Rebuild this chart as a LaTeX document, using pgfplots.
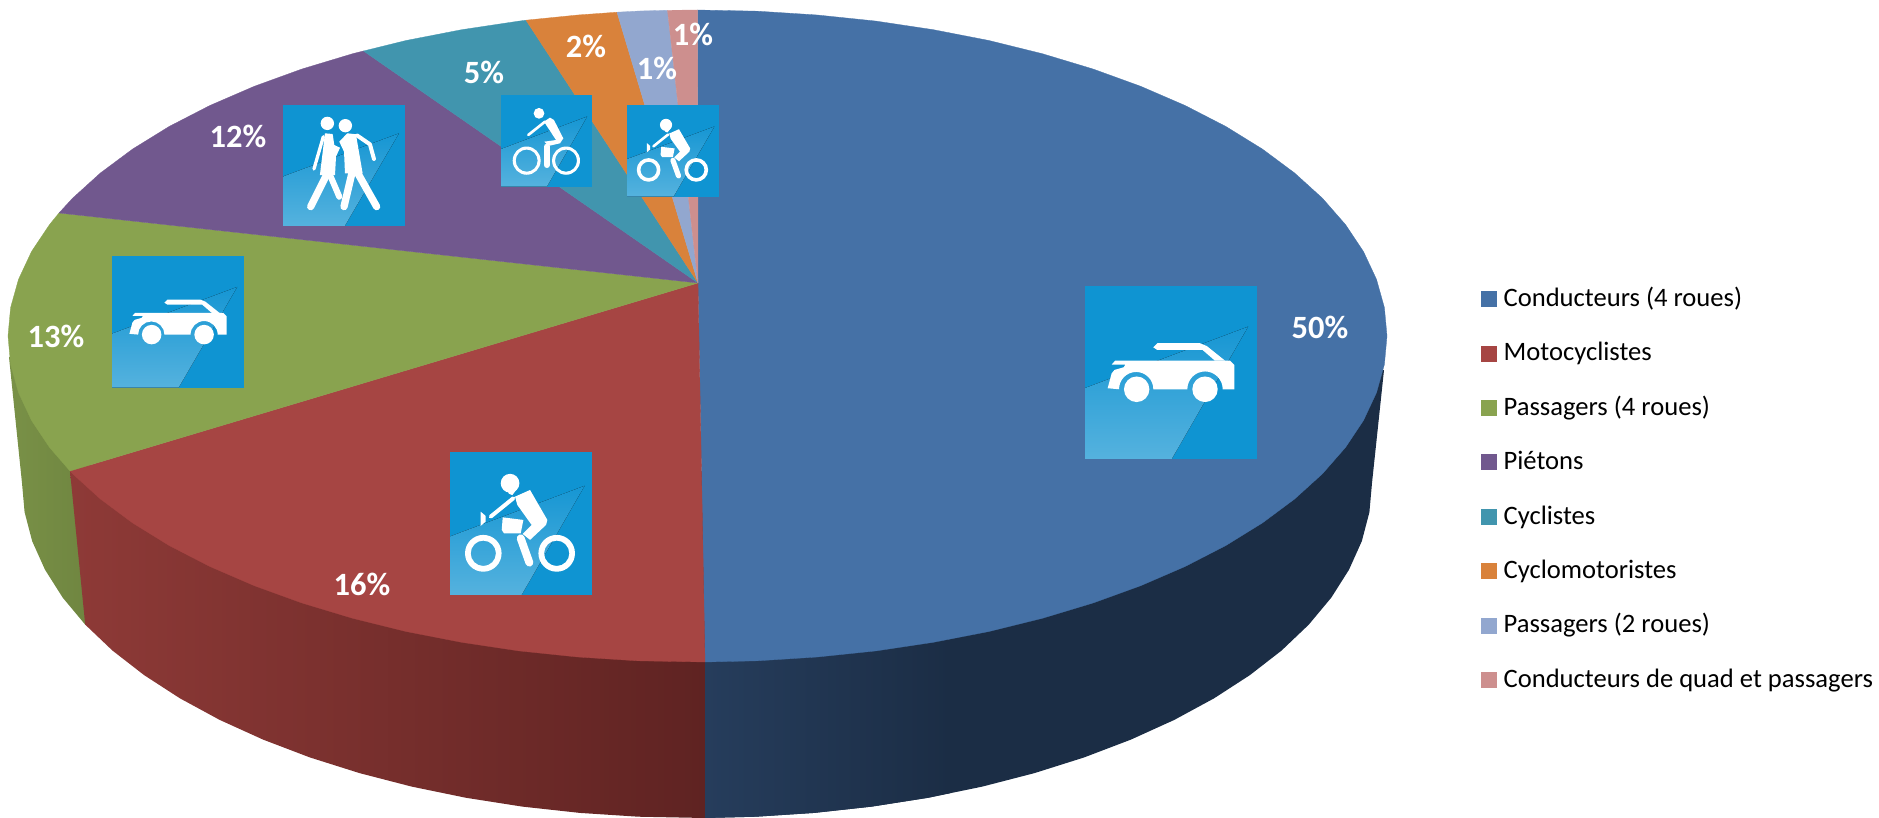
\documentclass[border=0pt]{standalone}
\usepackage{pgfplots}
\pgfplotsset{compat=1.18}
\usepackage{fontspec}
\setmainfont{Carlito}
\definecolor{cBlue}{HTML}{4571A6}
\definecolor{cRed}{HTML}{A64543}
\definecolor{cGreen}{HTML}{89A34F}
\definecolor{cPurple}{HTML}{71588E}
\definecolor{cTeal}{HTML}{4195AE}
\definecolor{cOrange}{HTML}{D9823B}
\definecolor{cLtBlue}{HTML}{92A7CF}
\definecolor{cPink}{HTML}{CD8F8E}
\definecolor{tileA}{HTML}{0F94D2}
\definecolor{tileB}{HTML}{55B2DE}
\definecolor{tileC}{HTML}{1696D3}
\newcommand\tile[5]{%
  \pgfmathsetmacro\ux{#3/1000}\pgfmathsetmacro\uy{#4/1000}%
  \begin{scope}[shift={({#1*1pt},{(818-#2)*1pt})},x=\ux pt,y=-\uy pt]
    \fill[tileA] (0,0) rectangle (1000,1000);
    \fill[top color=tileC,bottom color=tileB] (0,590) -- (950,235) -- (505,1000) -- (0,1000) -- cycle;
    \begin{scope}[white,fill=white,line cap=round,line join=round]
      #5
    \end{scope}
  \end{scope}}
\newcommand\carglyph{%
  \fill (398,355) -- (421,331) -- (670,331) -- (709,347) -- (816,432) -- (757,432) -- (685,370) -- (421,370) -- cycle;
  \fill (175,432) -- (845,432) -- (870,457) -- (870,597) -- (802,597)
    arc[start angle=0,end angle=-180,x radius=103,y radius=103] -- (398,597)
    arc[start angle=0,end angle=-180,x radius=100,y radius=100] -- (132,591) -- (155,505) -- (172,485) -- (225,470) -- (235,455) -- (155,455) -- cycle;
  \fill (301,597) circle[radius=74];
  \fill (699,597) circle[radius=74];}
\newcommand\motoglyph{%
  \fill[even odd rule] (235,708) circle[radius=129] (235,708) circle[radius=89];
  \fill[even odd rule] (753,708) circle[radius=129] (753,708) circle[radius=89];
  \fill (424,217) circle[radius=66];
  \fill (400,250) -- (470,260) -- (440,300) -- (415,290) -- cycle;
  \draw[line width=28*\ux pt] (287,451) -- (447,322);
  \fill (459,311) -- (565,264) -- (687,474) -- (678,509) -- (565,614) -- (513,572) -- (576,509) -- (475,369) -- cycle;
  \draw[line width=56*\ux pt] (499,603) -- (560,773);
  \fill (372,456) -- (518,474) -- (499,568) -- (381,568) -- (365,544) -- cycle;
  \fill (216,416) -- (252,446) -- (252,486) -- (216,516) -- cycle;}
\newcommand\bikeglyph{%
  \fill[even odd rule] (283,716) circle[radius=154] (283,716) circle[radius=121];
  \fill[even odd rule] (717,716) circle[radius=154] (717,716) circle[radius=121];
  \fill (419,200) circle[radius=59];
  \draw[line width=29*\ux pt] (301,436) -- (485,291);
  \fill (474,291) -- (540,247) -- (584,273) -- (687,473) -- (651,527) -- (522,556) -- (478,509) -- (607,491) -- (522,364) -- cycle;
  \draw[line width=66*\ux pt] (504,564) -- (504,764);}
\newcommand\walkglyph{%
  \fill (362,152) circle[radius=55];
  \fill (510,171) circle[radius=55];
  \draw[line width=27*\ux pt] (329,262) -- (252,529);
  \fill (342,234) -- (406,240) -- (419,331) -- (466,353) -- (433,427) -- (425,579) -- (301,579) -- cycle;
  \draw[line width=60*\ux pt] (362,565) -- (225,840);
  \draw[line width=50*\ux pt] (378,565) -- (460,758);
  \draw[tileA,line width=12*\ux pt] (411,242) -- (470,320);
  \fill (526,234) -- (597,242) -- (652,565) -- (507,565) -- (499,386) -- (460,303) -- cycle;
  \draw[line width=33*\ux pt] (608,253) -- (712,325) -- (745,446);
  \draw[line width=60*\ux pt] (570,537) -- (499,840);
  \draw[line width=60*\ux pt] (597,537) -- (767,840);}
\begin{document}
\begin{tikzpicture}
\path[use as bounding box] (0,0) rectangle (1879pt,818pt);
\begin{axis}[
  at={(0,0)},anchor=south west,
  scale only axis,width=1879pt,height=818pt,
  xmin=0,xmax=1879,ymin=0,ymax=818,y dir=reverse,
  hide axis,clip=false,
  legend image code/.code={\path[#1] (0pt,-7.5pt) rectangle (15pt,7.5pt);\path (0pt,0pt) (22.3pt,0pt);},
  legend style={at={(axis cs:1481,286.4)},anchor=north west,draw=none,fill=none,
    font=\fontsize{26.6}{30}\selectfont,inner sep=0pt,outer sep=0pt,
    row sep=29.7pt,
    nodes={inner sep=0pt,text height=20pt,text depth=4.7pt,anchor=west}},
  legend cell align=left,
]
% side faces
\addplot[forget plot,draw=none,left color={rgb,255:red,121;green,145;blue,71},right color={rgb,255:red,111;green,133;blue,64}] coordinates {
(85.2,624.6)(62.7,597.6)(45,569.7)(32.2,541.2)(24.6,512.2)(22,483)(9,357)(90,357)(90,625)(85.2,624.6)};
\addplot[forget plot,draw=none,left color={rgb,255:red,142;green,58;blue,55},right color={rgb,255:red,95;green,35;blue,34}] coordinates {
(705,818)(638.2,816.7)(579.8,812.9)(522.3,806.6)(466.1,797.8)(411.7,786.6)(359.5,773.1)(309.8,757.4)(263.1,739.6)(219.7,719.9)(179.9,698.3)(144.1,675.1)(112.4,650.5)(85.2,624.6)(70,471)(705,471)(705,818)};
\addplot[forget plot,draw=none,fill={rgb,255:red,27;green,45;blue,69}] coordinates {
(705,818)(755.8,816.7)(814.2,812.9)(871.7,806.6)(927.9,797.8)(982.3,786.6)(1034.5,773.1)(1084.2,757.4)(1130.9,739.6)(1174.3,719.9)(1214.1,698.3)(1249.9,675.1)(1281.6,650.5)(1308.8,624.6)(1331.3,597.6)(1349,569.7)(1361.8,541.2)(1369.4,512.2)(1372,483)(1384,370)(705,370)(705,818)};
\addplot[forget plot,draw=none,left color={rgb,255:red,38;green,61;blue,92},right color={rgb,255:red,27;green,45;blue,69}] coordinates {
(705,818)(755.8,816.7)(814.2,812.9)(871.7,806.6)(927.9,797.8)(950,793.2)(950,600)(705,600)(705,818)};
% top faces
\addplot[fill=cBlue,draw=cBlue,line width=0.3pt] coordinates {
(698,283)(697.5,10)(757.6,11.2)(817.2,15)(876,21.1)(933.3,29.7)(988.9,40.5)(1042.3,53.7)(1093,69)(1140.7,86.3)(1185.1,105.5)(1225.7,126.4)(1262.3,149)(1294.6,173)(1322.4,198.2)(1345.4,224.5)(1363.5,251.6)(1376.5,279.4)(1384.4,307.6)(1387,336)(1384.4,364.4)(1376.5,392.6)(1363.5,420.4)(1345.4,447.5)(1322.4,473.8)(1294.6,499)(1262.3,523)(1225.7,545.6)(1185.1,566.5)(1140.7,585.7)(1093,603)(1042.3,618.3)(988.9,631.5)(933.3,642.3)(876,650.9)(817.2,657)(757.6,660.8)(705,662)(698,283)};
\addlegendentry{Conducteurs (4 roues)}
\addplot[fill=cRed,draw=cRed,line width=0.3pt] coordinates {
(698,283)(705,662)(637.4,660.8)(577.8,657)(519,650.9)(461.7,642.3)(406.1,631.5)(352.7,618.3)(302,603)(254.3,585.7)(209.9,566.5)(169.3,545.6)(132.7,523)(100.4,499)(72.6,473.8)(70,471)(698,283)};
\addlegendentry{Motocyclistes}
\addplot[fill=cGreen,draw=cGreen,line width=0.3pt] coordinates {
(698,283)(70,471)(49.6,447.5)(31.5,420.4)(18.5,392.6)(10.6,364.4)(8,336)(10.6,307.6)(18.5,279.4)(31.5,251.6)(49.6,224.5)(59,213)(698,283)};
\addlegendentry{Passagers (4 roues)}
\addplot[fill=cPurple,draw=cPurple,line width=0.3pt] coordinates {
(698,283)(59,213)(72.6,198.2)(100.4,173)(132.7,149)(169.3,126.4)(209.9,105.5)(254.3,86.3)(302,69)(352.7,53.7)(363.5,51)(698,283)};
\addlegendentry{Piétons}
\addplot[fill=cTeal,draw=cTeal,line width=0.3pt] coordinates {
(698,283)(363.5,51)(406.1,40.5)(461.7,29.7)(519,21.1)(526,20.2)(698,283)};
\addlegendentry{Cyclistes}
\addplot[fill=cOrange,draw=cOrange,line width=0.3pt] coordinates {
(698,283)(526,20.2)(577.8,15)(617,12.2)(698,283)};
\addlegendentry{Cyclomotoristes}
\addplot[fill=cLtBlue,draw=cLtBlue,line width=0.3pt] coordinates {
(698,283)(617,12.2)(640,11)(667.5,10.3)(698,283)};
\addlegendentry{Passagers (2 roues)}
\addplot[fill=cPink,draw=cPink,line width=0.3pt] coordinates {
(698,283)(667.5,10.3)(697.5,10)(698,283)};
\addlegendentry{Conducteurs de quad et passagers}
\tikzset{lab/.style={text=white,font=\fontsize{32.5}{34}\selectfont\bfseries,inner sep=0pt}}
\node[lab] at (axis cs:1320,327) {50\%};
\node[lab] at (axis cs:362,584) {16\%};
\node[lab] at (axis cs:56,336) {13\%};
\node[lab] at (axis cs:238,136) {12\%};
\node[lab] at (axis cs:484,72) {5\%};
\node[lab] at (axis cs:586,46) {2\%};
\node[lab] at (axis cs:657,68) {1\%};
\node[lab] at (axis cs:693,34) {1\%};
\end{axis}
% pictograms
\tile{1085}{286}{171.7}{173}{\carglyph}
\tile{450}{452.3}{141.7}{142.7}{\motoglyph}
\tile{112}{256}{131.8}{131.7}{\carglyph}
\tile{283.3}{105}{121.7}{121}{\walkglyph}
\tile{501}{95}{90.7}{91.7}{\bikeglyph}
\tile{627}{105}{92}{91.7}{\motoglyph}
\end{tikzpicture}
\end{document}
